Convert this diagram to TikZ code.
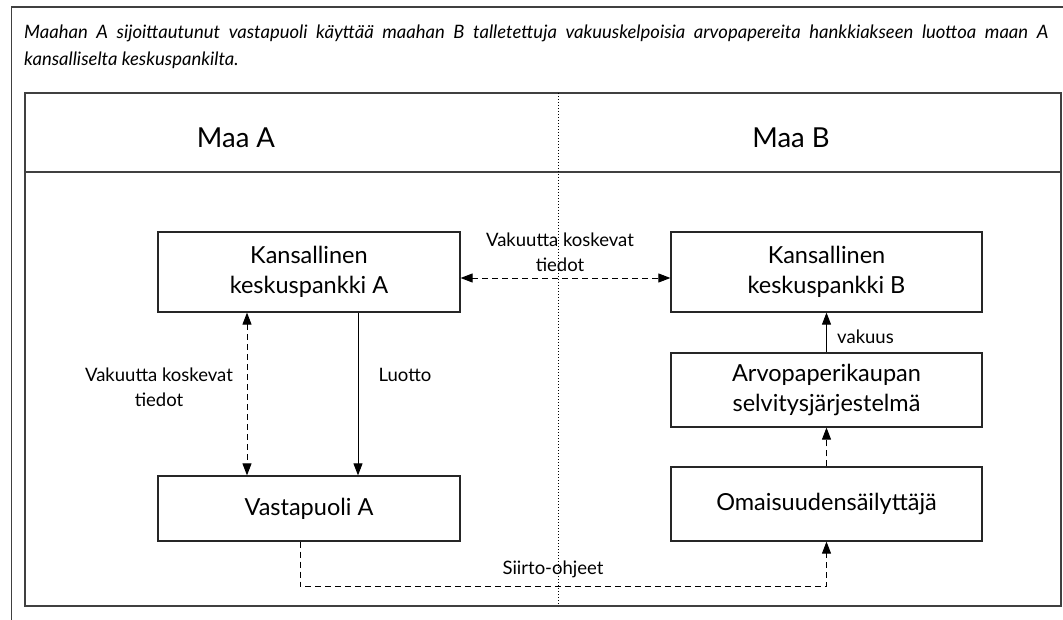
\documentclass[tikz,border=0pt]{standalone}
\usepackage{fontspec}
\setmainfont{Lato}
\usetikzlibrary{arrows.meta}
\begin{document}
\begin{tikzpicture}[x=1pt,y=-1pt,
  frame/.style={draw=black!75,line width=1.4pt},
  box/.style={draw=black!85,line width=1.2pt,minimum width=302pt,inner sep=0pt,align=center,font=\fontsize{23.5}{30}\selectfont},
  header/.style={inner sep=0pt,font=\fontsize{27.5}{30}\selectfont},
  lbl/.style={inner sep=0pt,align=center,font=\fontsize{18.5}{25}\selectfont},
  conn/.style={line width=0.9pt,black},
  dsh/.style={conn,dash pattern=on 6pt off 4pt},
  tipend/.style={-{Triangle[length=12pt,width=9pt]}},
  tipboth/.style={{Triangle[length=12pt,width=9pt]}-{Triangle[length=12pt,width=9pt]}},
  caption/.style={inner sep=0pt,anchor=base west,font=\fontsize{18.5}{20}\selectfont\itshape}
]
\useasboundingbox (0,0) rectangle (1063,620);
\clip (0,0) rectangle (1063,620);
\fill[white] (0,0) rectangle (1063,620);
% outer frame
\draw[frame] (11.5,640) -- (11.5,7) -- (1080,7);
% caption
\node[caption] (cap1) at (24,39) {\makebox[1024pt][s]{Maahan A sijoittautunut vastapuoli käyttää maahan B talletettuja vakuuskelpoisia arvopapereita hankkiakseen luottoa maan A}};
\node[caption] (cap2) at (24,66) {kansalliselta keskuspankilta.};
% inner frame
\draw[frame] (25,93) rectangle (1061,606);
\draw[frame] (25,172) -- (1061,172);
\draw[line width=0.9pt,dash pattern=on 1pt off 2pt] (558,93) -- (558,606);
\node[header] (maaA) at (236,138) {Maa A};
\node[header] (maaB) at (791,138) {Maa B};
% boxes
\node[box,minimum height=80pt] (kA) at (309,272) {Kansallinen\\keskuspankki A};
\node[box,minimum height=65pt] (vA) at (309,508.5) {Vastapuoli A};
\node[box,minimum width=311pt,minimum height=80pt] (kB) at (826.5,272) {Kansallinen\\keskuspankki B};
\node[box,minimum width=311pt,minimum height=74pt] (arvo) at (826.5,390) {Arvopaperikaupan\\selvitysjärjestelmä};
\node[box,minimum width=311pt,minimum height=74pt] (om) at (826.5,504) {Omaisuudensäilyttäjä};
% connectors
\draw[dsh,tipboth] ([yshift=-6pt]kA.east) -- ([yshift=-6pt]kB.west);
\draw[dsh,tipboth] ([xshift=-62pt]kA.south) -- ([xshift=-62pt]vA.north);
\draw[conn,tipend] ([xshift=49pt]kA.south) -- ([xshift=49pt]vA.north);
\draw[conn,tipend] (arvo.north) -- (kB.south);
\draw[dsh,tipend] (om.north) -- (arvo.south);
\draw[dsh,tipend] ([xshift=-9pt]vA.south) -- ++(0,45) -| (om.south);
% labels
\node[lbl] (l1) at (560,252) {Vakuutta koskevat\\tiedot};
\node[lbl] (l2) at (159,387) {Vakuutta koskevat\\tiedot};
\node[lbl] (l3) at (405,375) {Luotto};
\node[lbl,anchor=west] (l4) at (837,337) {vakuus};
\node[lbl] (l5) at (553,569) {Siirto-ohjeet};
\end{tikzpicture}
\end{document}
